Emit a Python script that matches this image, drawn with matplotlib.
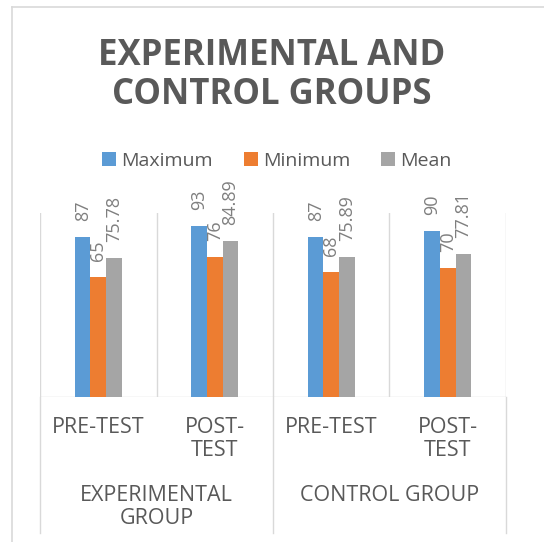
import matplotlib
matplotlib.use("Agg")
import matplotlib.pyplot as plt
import matplotlib.transforms as mtransforms
from matplotlib.lines import Line2D
from matplotlib.patches import Patch
import numpy as np

# ---- data ----
groups = ["EXPERIMENTAL\nGROUP", "CONTROL GROUP"]
tests = ["PRE-TEST", "POST-\nTEST", "PRE-TEST", "POST-\nTEST"]
series_names = ["Maximum", "Minimum", "Mean"]
maximum = [87, 93, 87, 90]
minimum = [65, 76, 68, 70]
mean = [75.78, 84.89, 75.89, 77.81]
label_texts = [
    ["87", "93", "87", "90"],
    ["65", "76", "68", "70"],
    ["75.78", "84.89", "75.89", "77.81"],
]
title = "EXPERIMENTAL AND\nCONTROL GROUPS"

colors = ["#5B9BD5", "#ED7D31", "#A5A5A5"]
text_color = "#595959"
label_color = "#7F7F7F"
grid_color = "#D9D9D9"

plt.rcParams["font.family"] = ["Open Sans", "DejaVu Sans"]

W, H = 544, 542
fig = plt.figure(figsize=(W / 100, H / 100), dpi=100)
fig.patch.set_facecolor("white")

def fx(px):
    return px / W

def fy(py):
    return (H - py) / H

ax_left, ax_right, ax_top, ax_bot = 40, 506, 213, 397
ax = fig.add_axes([fx(ax_left), fy(ax_bot), fx(ax_right - ax_left), (ax_bot - ax_top) / H])
ax.set_xlim(0, len(tests))
ax.set_ylim(0, 100)
ax.axis("off")

x = np.arange(len(tests)) + 0.5
bw = 0.134
all_series = [maximum, minimum, mean]
for i, (vals, col) in enumerate(zip(all_series, colors)):
    xs = x + (i - 1) * bw
    ax.bar(xs, vals, width=bw, color=col, edgecolor="none", zorder=3)
    for xi, v, t in zip(xs, vals, label_texts[i]):
        ax.annotate(t, (xi, v), xytext=(0, 11.5), textcoords="offset points",
                    rotation=90, ha="center", va="bottom", fontsize=13,
                    color=label_color, zorder=4)

# vertical gridlines within plot
for k in range(len(tests) + 1):
    ax.axvline(k, color=grid_color, lw=1.0, zorder=1)
ax.axhline(0, color=grid_color, lw=1.0, zorder=2)

# category axis separators extending below
trans = mtransforms.blended_transform_factory(ax.transData, fig.transFigure)
for k in [0, 2, 4]:
    ax.add_line(Line2D([k, k], [fy(397), fy(533)], transform=trans, color=grid_color,
                       lw=1.0, clip_on=False))

# tick labels
for xi, t in zip(x, tests):
    ax.text(xi, fy(417), t, transform=trans, ha="center", va="top", fontsize=15.5,
            color=text_color, linespacing=1.1, multialignment="center")

for gi, g in enumerate(groups):
    ax.text(1 + 2 * gi, fy(485), g, transform=trans, ha="center", va="top", fontsize=15.5,
            color=text_color, linespacing=1.1)

# title
fig.text(fx(272), fy(38), title, ha="center", va="top", fontsize=25, fontweight="bold",
         color=text_color, linespacing=1.12)

# legend
handles = [Patch(facecolor=c, edgecolor="none") for c in colors]
fig.legend(handles, series_names, loc="center", bbox_to_anchor=(fx(277), fy(161)),
           ncol=3, frameon=False, fontsize=14, labelcolor=text_color,
           handlelength=0.72, handleheight=0.72, handletextpad=0.25, columnspacing=1.6)

# chart frame
fig.add_artist(Line2D([fx(12), fx(12)], [fy(7), 0], transform=fig.transFigure, color=grid_color, lw=1.2))
fig.add_artist(Line2D([fx(12), 1], [fy(7), fy(7)], transform=fig.transFigure, color=grid_color, lw=1.2))

fig.savefig("out.png", dpi=100)
